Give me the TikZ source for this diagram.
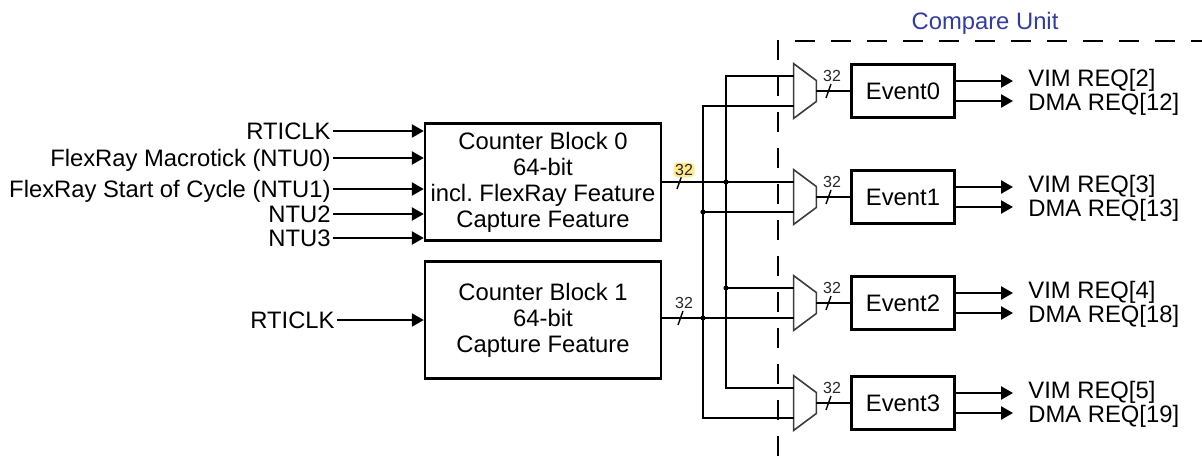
\documentclass[tikz,border=0pt]{standalone}
\usepackage{fontspec}
\setmainfont{Liberation Sans}
\usepackage{tikz}
\usetikzlibrary{
  shapes.geometric,
  arrows.meta,
  positioning,
  calc
}
\definecolor{UnitBlue}{RGB}{50, 60, 160}
\definecolor{MarkYellow}{RGB}{255, 234, 140}
\definecolor{LineGray}{RGB}{60, 60, 60}
\tikzset{
  blockbox/.style={draw, line width=1.2pt, inner sep=0pt, align=center,
    minimum width=118pt, minimum height=58.5pt, font=\fontsize{11.9}{13}\selectfont},
  eventbox/.style={draw, line width=1.2pt, inner sep=0pt,
    minimum width=51.5pt, minimum height=26.5pt, font=\fontsize{11.9}{13}\selectfont},
  muxbox/.style={inner sep=0pt, minimum width=11pt, minimum height=27pt},
  muxline/.style={draw=LineGray, line width=0.8pt, line join=miter},
  inlabel/.style={anchor=east, inner xsep=1pt, inner ysep=0pt, text height=8.5pt,
    text depth=0pt, font=\fontsize{11.9}{13}\selectfont},
  outlabel/.style={anchor=west, inner xsep=7.5pt, inner ysep=0pt, text height=8.5pt,
    text depth=0pt, font=\fontsize{11.9}{13}\selectfont},
  widthlabel/.style={inner sep=0.8pt, font=\fontsize{8}{9}\selectfont, text=black!85},
  bus/.style={line width=1.2pt},
  sigarrow/.style={line width=1.2pt, -{Triangle[length=6pt, width=6.5pt]}},
  tickline/.style={line width=0.7pt},
  junction/.style={circle, fill, inner sep=0pt, minimum size=2.6pt},
  unitline/.style={line width=1pt, dash pattern=on 10pt off 8pt}
}

\begin{document}
\begin{tikzpicture}[x=0.5pt, y=-0.5pt]
  \useasboundingbox (0,0) rectangle (1202,456);

  % compare unit boundary
  \draw[unitline] (778,456) -- (778,41) -- (1202,41);
  \node[text=UnitBlue, font=\fontsize{11.9}{13}\selectfont] (unit) at (985,23) {Compare Unit};

  % counter blocks
  \node[blockbox] (cb0) at (543,182) {Counter Block 0\\64-bit\\incl.\ FlexRay Feature\\Capture Feature};
  \node[blockbox] (cb1) at (543,320) {Counter Block 1\\64-bit\\Capture Feature};

  % inputs
  \node[inlabel] (clk0) at (333,131) {RTICLK};
  \node[inlabel] (ntu0) at (333,158) {FlexRay Macrotick (NTU0)};
  \node[inlabel] (ntu1) at (333,189) {FlexRay Start of Cycle (NTU1)};
  \node[inlabel] (ntu2) at (333,214) {NTU2};
  \node[inlabel] (ntu3) at (333,238) {NTU3};
  \node[inlabel] (clk1) at (337,320) {RTICLK};
  \foreach \n in {clk0, ntu0, ntu1, ntu2, ntu3}
    \draw[sigarrow] (\n.east) -- (\n.east -| cb0.west);
  \draw[sigarrow] (clk1.east) -- (clk1.east -| cb1.west);

  % compare channels
  \foreach \i/\yc/\vim/\dma in {0/91/2/12, 1/197/3/13, 2/303/4/18, 3/403/5/19} {
    \node[muxbox] (mux\i) at (805,\yc) {};
    \draw[muxline] (mux\i.north west) -- ([yshift=-8.5pt]mux\i.north east)
      -- ([yshift=8.5pt]mux\i.south east) -- (mux\i.south west) -- cycle;
    \coordinate (mA\i) at ([yshift=7.5pt]mux\i.west);
    \coordinate (mB\i) at ([yshift=-7.5pt]mux\i.west);
    \node[eventbox] (ev\i) at (903,\yc) {Event\i};
    \draw[bus] (mux\i.east) -- (ev\i.west);
    \draw[tickline] (826,\yc+7) -- (831,\yc-7);
    \node[widthlabel] (w\i) at (832,\yc-15) {32};
    \coordinate (vt\i) at (1013,\yc-10);
    \coordinate (dt\i) at (1013,\yc+10);
    \node[outlabel] (vim\i) at (1013,\yc-13) {VIM REQ[\vim]};
    \node[outlabel] (dma\i) at (1013,\yc+11) {DMA REQ[\dma]};
    \draw[sigarrow] (ev\i.east |- vt\i) -- (vt\i);
    \draw[sigarrow] (ev\i.east |- dt\i) -- (dt\i);
  }

  % bus from counter block 0
  \coordinate (jB) at (726,182);
  \draw[bus] (cb0.east) -- (mA1);
  \draw[bus] (mA0) -| (jB) |- (mA2);
  \draw[bus] (jB) |- (mA3);
  \node[junction] at (jB) {};
  \node[junction] at (jB |- mA2) {};
  \draw[tickline] (677,189) -- (682,175);
  \node[widthlabel, fill=MarkYellow, rounded corners=2pt] (wc0) at (684,170) {32};

  % bus from counter block 1
  \coordinate (jA) at (703,318);
  \draw[bus] (cb1.east |- mB2) -- (mB2);
  \draw[bus] (mB0) -| (jA) |- (mB1);
  \draw[bus] (jA) |- (mB3);
  \node[junction] at (jA) {};
  \node[junction] at (jA |- mB1) {};
  \draw[tickline] (678,325) -- (683,311);
  \node[widthlabel] (wc1) at (684,303) {32};
\end{tikzpicture}
\end{document}
